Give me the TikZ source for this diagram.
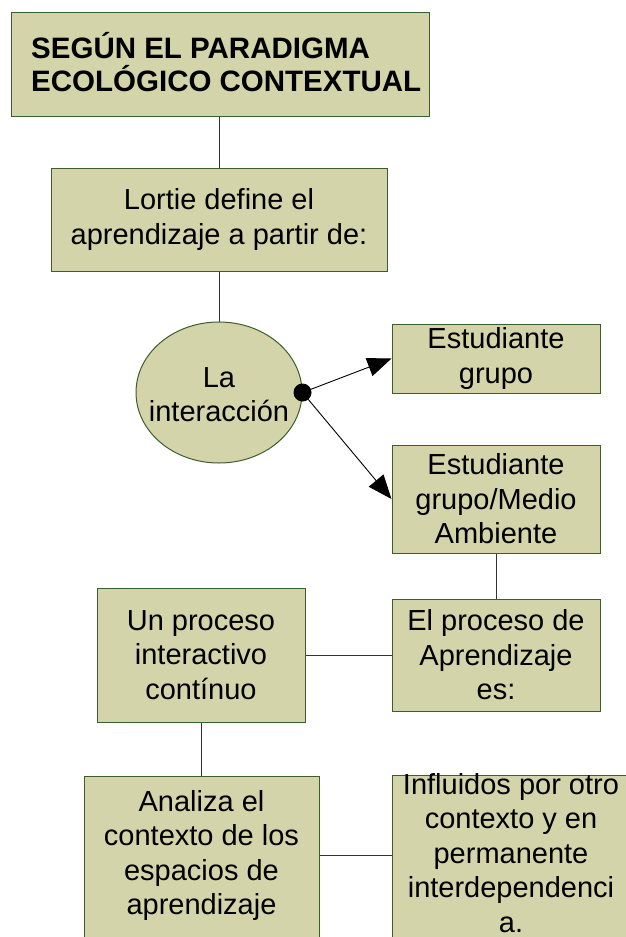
\documentclass[tikz,border=0pt]{standalone}
\usepackage{fontspec}
\setmainfont{Liberation Sans}
\usetikzlibrary{shapes.geometric,arrows.meta}
\definecolor{boxfill}{HTML}{D4D4AA}
\definecolor{boxline}{HTML}{3B5E2B}
\tikzset{
  box/.style={draw=boxline, fill=boxfill, line width=1pt, inner sep=0pt, align=center,
    font=\fontsize{29}{34.5}\selectfont},
  txt/.style={inner sep=0pt, align=center, font=\fontsize{29}{34.5}\selectfont},
  conn/.style={draw=black!80, line width=0.9pt},
  arr/.style={draw=black, line width=0.9pt, -{Triangle[length=24pt,width=19pt]}}
}
\begin{document}
\begin{tikzpicture}[x=1pt,y=-1pt]
\useasboundingbox (0,0) rectangle (625,937);
\node[box, minimum width=418, minimum height=104] (b1) at (220,64) {};
\node[txt, anchor=west, align=left, font=\fontsize{29.5}{33.5}\selectfont\bfseries]
  (t1) at (31,62) {SEGÚN EL PARADIGMA\\ECOLÓGICO CONTEXTUAL};
\node[box, minimum width=336, minimum height=103] (b2) at (219,219.5)
  {Lortie define el\\aprendizaje a partir de:};
\node[box, ellipse, minimum width=166, minimum height=141] (ell) at (219,392.5) {};
\node[txt] (tell) at (219,394.5) {La\\interacción};
\node[circle, fill=black, inner sep=0pt, minimum size=18] (dot) at (ell.east) {};
\node[box, minimum width=208, minimum height=69] (b3) at (496,358.5)
  {Estudiante\\grupo};
\node[box, minimum width=208, minimum height=108] (b4) at (496,499)
  {Estudiante\\grupo/Medio\\Ambiente};
\node[box, minimum width=208, minimum height=112] (b5) at (496,655)
  {El proceso de\\Aprendizaje\\es:};
\node[box, minimum width=208, minimum height=134] (b6) at (201,655)
  {Un proceso\\interactivo\\contínuo};
\node[box, minimum width=235, minimum height=175] (b7) at (201.5,863.5) {};
\node[txt] (t7) at (201.5,855.5)
  {Analiza el\\contexto de los\\espacios de\\aprendizaje};
\node[box, minimum width=240, minimum height=176] (b8) at (512,863) {};
\node[txt] (t8) at (511,853)
  {Influidos por otro\\contexto y en\\permanente\\interdependenci\\a.};
\draw[conn] (b2.north |- b1.south) -- (b2.north);
\draw[conn] (b2.south) -- (ell.north);
\draw[arr] (dot.center) -- (b3.west);
\draw[arr] (dot.center) -- (b4.west);
\draw[conn] (b4.south) -- (b5.north);
\draw[conn] (b6.east) -- (b5.west);
\draw[conn] (b7.north |- b6.south) -- (b7.north);
\draw[conn] (b7.east |- t7) -- (b8.west |- t7);
\end{tikzpicture}
\end{document}
